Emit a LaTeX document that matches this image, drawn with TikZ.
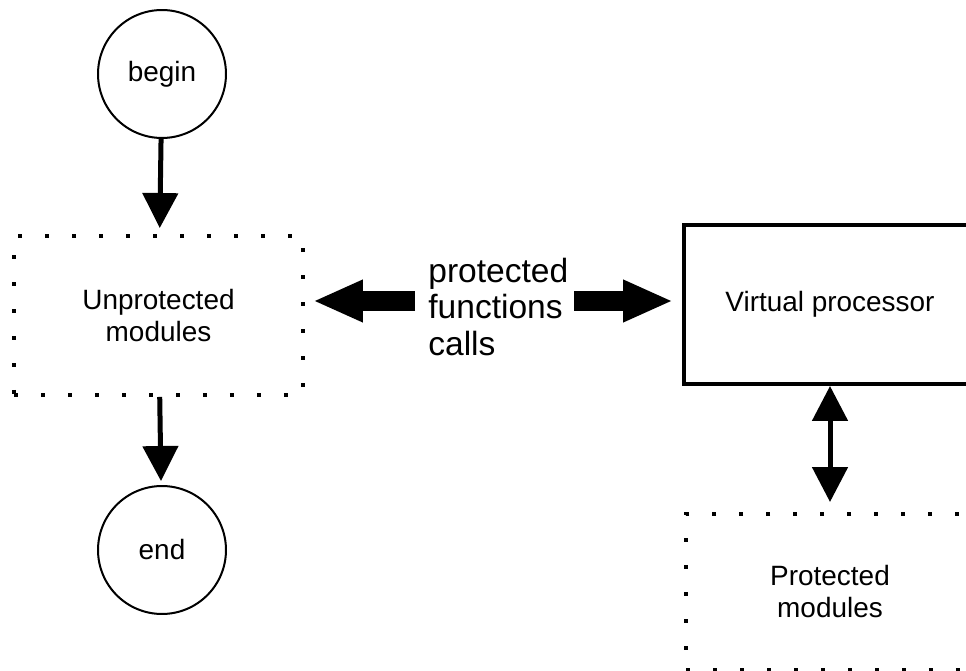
\documentclass[tikz,border=0pt]{standalone}
\usepackage{fontspec}
\setmainfont{Liberation Sans}
\usetikzlibrary{arrows.meta}

\begin{document}
\begin{tikzpicture}[x=0.02cm,y=-0.02cm,
		term/.style={draw,circle,line width=0.04cm,minimum size=2.56cm,inner sep=0pt,font=\fontsize{15.9}{18.2}\selectfont},
		modbox/.style={draw,line width=0.08cm,dash pattern=on 0.08cm off 0.46cm,minimum height=3.18cm,inner sep=0pt,align=center,font=\fontsize{15.9}{18.2}\selectfont},
		procbox/.style={draw,line width=0.08cm,minimum width=5.84cm,minimum height=3.18cm,inner sep=0pt,font=\fontsize{15.9}{18.2}\selectfont},
		flow/.style={line width=0.1cm,-{Triangle[width=0.7cm,length=0.7cm]}},
		dflow/.style={line width=0.1cm,{Triangle[width=0.7cm,length=0.7cm]}-{Triangle[width=0.7cm,length=0.7cm]}},
		fat/.style={line width=0.4cm,-{Triangle[width=0.78cm,length=1cm]}}]
		\clip (0,0) rectangle (966,671);
		%
		\node[term] (begin) at (162,74) {begin};
		\node[modbox,minimum width=5.78cm] (unprot) at (158.5,315.5) {Unprotected\\modules};
		\node[term] (end) at (162,550) {end};
		\draw[flow,shorten >=0.12cm] (begin) -- (unprot);
		\draw[flow,shorten >=0.08cm] (unprot) -- (end);
		%
		\node[anchor=west,align=left,inner sep=0pt,font=\fontsize{19.1}{20.5}\selectfont] (calls) at (428,307) {protected\\functions\\calls};
		\coordinate (fl) at (415,301);
		\coordinate (fr) at (574,301);
		\node[procbox] (vproc) at (830,304.5) {Virtual processor};
		\draw[fat,shorten >=0.16cm] (fl) -- (unprot.east |- fl);
		\draw[fat,shorten >=0.18cm] (fr) -- (vproc.west |- fr);
		%
		\node[modbox,minimum width=5.76cm,minimum height=3.12cm] (prot) at (830,592) {Protected\\modules};
		\draw[dflow,shorten >=0.2cm] (vproc) -- (prot);
	\end{tikzpicture}
\end{document}
